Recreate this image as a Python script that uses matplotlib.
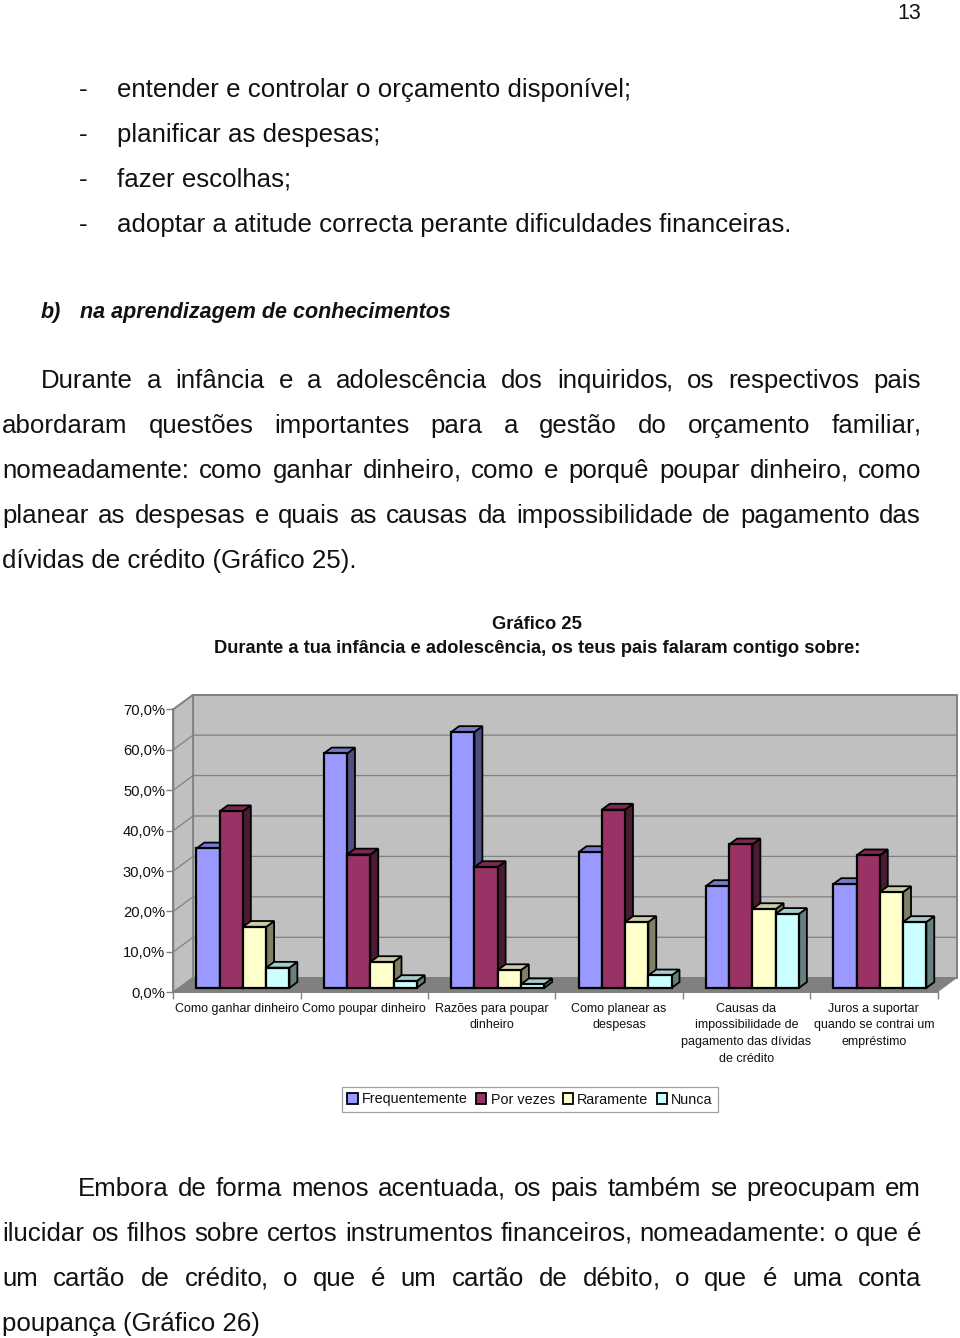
import matplotlib
matplotlib.use('Agg')
import matplotlib.pyplot as plt
from matplotlib.patches import Polygon, Patch

plt.rcParams['font.family'] = ['Liberation Sans', 'DejaVu Sans']

W, H = 960, 1338

# chart data
categories = ['Como ganhar dinheiro', 'Como poupar dinheiro', 'Razões para poupar\ndinheiro',
              'Como planear as\ndespesas', 'Causas da\nimpossibilidade de\npagamento das dívidas\nde crédito',
              'Juros a suportar\nquando se contrai um\nempréstimo']
series_names = ['Frequentemente', 'Por vezes', 'Raramente', 'Nunca']
frequentemente = [34.5, 58.0, 63.3, 33.6, 25.2, 25.7]
por_vezes = [43.7, 33.0, 29.9, 44.1, 35.5, 32.8]
raramente = [15.1, 6.4, 4.4, 16.3, 19.5, 23.7]
nunca = [5.0, 1.7, 0.9, 3.1, 18.3, 16.3]
y_ticks = [0, 10, 20, 30, 40, 50, 60, 70]
y_labels = ['0,0%', '10,0%', '20,0%', '30,0%', '40,0%', '50,0%', '60,0%', '70,0%']

# page text
bullets = ['entender e controlar o orçamento disponível;', 'planificar as despesas;',
           'fazer escolhas;', 'adoptar a atitude correcta perante dificuldades financeiras.']
para1 = ['Durante a infância e a adolescência dos inquiridos, os respectivos pais',
         'abordaram questões importantes para a gestão do orçamento familiar,',
         'nomeadamente: como ganhar dinheiro, como e porquê poupar dinheiro, como',
         'planear as despesas e quais as causas da impossibilidade de pagamento das']
para2 = ['Embora de forma menos acentuada, os pais também se preocupam em',
         'ilucidar os filhos sobre certos instrumentos financeiros, nomeadamente: o que é',
         'um cartão de crédito, o que é um cartão de débito, o que é uma conta']

series = [frequentemente, por_vezes, raramente, nunca]
front = ['#9999FF', '#993366', '#FFFFCC', '#CCFFFF']
side = ['#4D4D80', '#4D1A33', '#808066', '#668080']
top = ['#7A7ACC', '#7A2952', '#CCCCA3', '#A3CCCC']

fig = plt.figure(figsize=(9.6, 13.38), dpi=100, facecolor='white')

# page layer in pixel coordinates
page = fig.add_axes([0, 0, 1, 1])
page.set_xlim(0, W)
page.set_ylim(H, 0)
page.axis('off')

BODY = 18.6
COMMA_SHIFT = -1.5


def put(x, y, s, **kw):
    # y is the baseline, so lines with and without descenders stay level
    kw.setdefault('fontsize', BODY)
    kw.setdefault('va', 'baseline')
    kw.setdefault('color', '#111111')
    return page.text(x, y, s, **kw)


def justified(line, x0, x1, y):
    # word by word so the line fills x0..x1 like the original page
    r = fig.canvas.get_renderer()
    words = line.split(' ')
    items = []
    widths = []
    for w in words:
        # trailing comma gets its own text, agg drops a word with a comma one pixel
        stem = w[:-1] if w.endswith(',') else w
        t = put(x0, y, stem)
        c = put(x0, y, ',') if w.endswith(',') else None
        sw = t.get_window_extent(r).width
        cw = c.get_window_extent(r).width if c else 0
        items.append((t, c, sw))
        widths.append(sw + cw + (COMMA_SHIFT if c else 0))
    gap = (x1 - x0 - sum(widths)) / (len(words) - 1)
    x = x0
    for (t, c, sw), w in zip(items, widths):
        t.set_x(x)
        if c:
            c.set_x(x + sw + COMMA_SHIFT)
        x += w + gap


put(909, 19, '13', ha='center', fontsize=15.5)
for y, b in zip([97, 142, 187, 232], bullets):
    put(79, y, '-')
    put(117, y, b)

put(41, 318, 'b)', fontsize=15.5, fontweight='bold', fontstyle='italic')
put(80, 318, 'na aprendizagem de conhecimentos', fontsize=15.5, fontweight='bold', fontstyle='italic')

justified(para1[0], 41, 921, 388)
for y, line in zip([433, 478, 523], para1[1:]):
    justified(line, 2, 921, y)
put(2, 568, 'dívidas de crédito (Gráfico 25).')

put(537, 629, 'Gráfico 25', ha='center', fontsize=13.2, fontweight='bold')
put(537, 653, 'Durante a tua infância e adolescência, os teus pais falaram contigo sobre:',
    ha='center', fontsize=13.2, fontweight='bold')

justified(para2[0], 78, 921, 1196)
justified(para2[1], 2, 921, 1241)
justified(para2[2], 2, 921, 1286)
put(2, 1331, 'poupança (Gráfico 26)')

# chart, axes box is the front plane of the 3d frame
left, right, bottom, upper = 173.3, 937.6, 992.3, 709.3
ax = fig.add_axes([left / W, 1 - bottom / H, (right - left) / W, (bottom - upper) / H])
ax.set_xlim(0, 6)
ax.set_ylim(0, 70)
ax.patch.set_alpha(0)

DX = 19.8 / ((right - left) / 6)      # full depth in category units
DY = 14.6 / ((bottom - upper) / 70)   # full depth in value units
GRAY = '#808080'


def poly(pts, fc, ec='none', lw=0, z=1):
    ax.add_patch(Polygon(pts, closed=True, facecolor=fc, edgecolor=ec, linewidth=lw,
                         zorder=z, clip_on=False, joinstyle='miter'))


# walls and floor
poly([(DX, DY), (6 + DX, DY), (6 + DX, 70 + DY), (DX, 70 + DY)], '#C0C0C0', GRAY, 1.4)
poly([(0, 0), (DX, DY), (DX, 70 + DY), (0, 70)], '#C0C0C0', GRAY, 1.4)
poly([(0, 0), (6, 0), (6 + DX, DY), (DX, DY)], GRAY, z=1.5)
for v in y_ticks[1:-1]:
    ax.plot([0, DX, 6 + DX], [v, v + DY, v + DY], color=GRAY, lw=0.9, zorder=1.2, clip_on=False)

# bars, drawn left to right so each one hides the side of the previous
bar_w = 0.1825
gap = (1 - 4 * bar_w) / 2
base_d = 0.30   # depth where the bar front stands
bar_d = 0.40    # bar depth as a share of the floor
z = 2
for c in range(len(categories)):
    for s in range(4):
        v = series[s][c]
        x0 = c + gap + s * bar_w + base_d * DX
        y0 = base_d * DY
        x1 = x0 + bar_w
        y1 = y0 + v
        ddx, ddy = bar_d * DX, bar_d * DY
        poly([(x1, y0), (x1 + ddx, y0 + ddy), (x1 + ddx, y1 + ddy), (x1, y1)], side[s], 'black', 1.3, z)
        poly([(x0, y1), (x1, y1), (x1 + ddx, y1 + ddy), (x0 + ddx, y1 + ddy)], top[s], 'black', 1.3, z)
        ax.bar(x0, v, bar_w, bottom=y0, align='edge', color=front[s], edgecolor='black',
               linewidth=1.6, zorder=z, clip_on=False)
        z += 1

# axes
for name in ['top', 'right']:
    ax.spines[name].set_visible(False)
for name in ['left', 'bottom']:
    ax.spines[name].set_color(GRAY)
    ax.spines[name].set_linewidth(1.4)
    ax.spines[name].set_zorder(1.6)
ax.set_yticks(y_ticks)
ax.set_yticklabels(y_labels, fontsize=10.6, color='#111111', va='center_baseline')
ax.tick_params(axis='y', length=5, width=1, color=GRAY, pad=1)
ax.set_xticks(range(7))
ax.set_xticklabels([])
ax.tick_params(axis='x', which='major', length=5, width=1, color=GRAY)
ax.set_xticks([i + 0.5 for i in range(6)], minor=True)
ax.set_xticklabels(categories, minor=True, fontsize=9.0, color='#111111', linespacing=1.52, va='top')
ax.tick_params(axis='x', which='minor', length=0, pad=7.5)

# legend
handles = [Patch(facecolor=f, edgecolor='black', linewidth=1.3) for f in front]
leg = fig.legend(handles, series_names, loc='center', bbox_to_anchor=(530 / W, 1 - 1099.5 / H), ncol=4,
                 fontsize=10.4, fancybox=False, edgecolor='#A0A0A0', framealpha=1,
                 handlelength=0.72, handleheight=0.72, handletextpad=0.3, columnspacing=0.55,
                 borderpad=0.38, borderaxespad=0)
leg.get_frame().set_linewidth(0.9)
for t in leg.get_texts():
    t.set_color('#111111')

fig.savefig('out.png', dpi=100)
